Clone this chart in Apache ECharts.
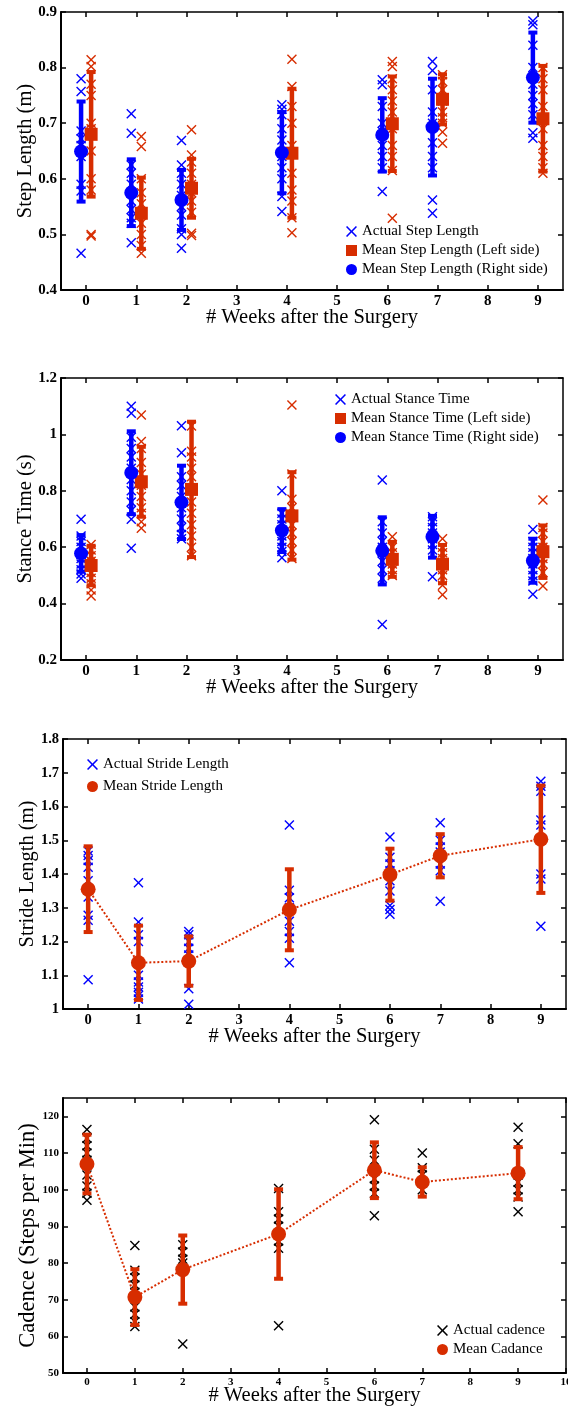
<!DOCTYPE html>
<html><head><meta charset="utf-8">
<script src="https://cdn.jsdelivr.net/npm/echarts@6/dist/echarts.min.js"></script>
<style>html,body{margin:0;padding:0;background:#fff}#c{width:568px;height:1408px}</style>
</head><body><div id="c"></div>
<script>
// ---------- DATA ----------
const weeks = [0, 1, 2, 4, 6, 7, 9];
const weekTicks = [0, 1, 2, 3, 4, 5, 6, 7, 8, 9];
const weekTicksCadence = [0, 1, 2, 3, 4, 5, 6, 7, 8, 9, 10];

// Panel 1: Step length (m)
const stepTicks = [0.4, 0.5, 0.6, 0.7, 0.8, 0.9];
const stepRightActual = [
  [0.780, 0.757, 0.686, 0.672, 0.660, 0.640, 0.590, 0.578, 0.466],
  [0.717, 0.682, 0.625, 0.610, 0.590, 0.560, 0.545, 0.530, 0.520, 0.485],
  [0.669, 0.625, 0.610, 0.590, 0.570, 0.550, 0.535, 0.510, 0.500, 0.475],
  [0.733, 0.725, 0.715, 0.690, 0.670, 0.640, 0.620, 0.600, 0.568, 0.541],
  [0.778, 0.769, 0.730, 0.700, 0.685, 0.660, 0.640, 0.620, 0.577],
  [0.811, 0.795, 0.760, 0.720, 0.700, 0.665, 0.640, 0.620, 0.562, 0.538],
  [0.884, 0.877, 0.840, 0.800, 0.770, 0.750, 0.735, 0.715, 0.683, 0.673]
];
const stepLeftActual = [
  [0.814, 0.802, 0.770, 0.750, 0.700, 0.690, 0.650, 0.600, 0.580, 0.500, 0.497],
  [0.676, 0.658, 0.600, 0.575, 0.555, 0.540, 0.520, 0.500, 0.480, 0.466],
  [0.688, 0.643, 0.630, 0.610, 0.590, 0.575, 0.560, 0.540, 0.502, 0.498],
  [0.815, 0.766, 0.730, 0.700, 0.660, 0.610, 0.580, 0.560, 0.530, 0.503],
  [0.811, 0.802, 0.780, 0.760, 0.740, 0.720, 0.690, 0.660, 0.640, 0.615, 0.529],
  [0.787, 0.775, 0.760, 0.740, 0.720, 0.710, 0.700, 0.684, 0.664],
  [0.800, 0.780, 0.760, 0.730, 0.710, 0.690, 0.660, 0.640, 0.620, 0.610]
];
const stepRightMean = [0.649, 0.575, 0.562, 0.647, 0.679, 0.693, 0.782];
const stepRightErr  = [0.090, 0.060, 0.054, 0.073, 0.066, 0.087, 0.081];
const stepLeftMean  = [0.680, 0.538, 0.583, 0.646, 0.699, 0.743, 0.708];
const stepLeftErr   = [0.112, 0.064, 0.053, 0.116, 0.085, 0.045, 0.095];

// Panel 2: Stance time (s)
const stanceTicks = [0.2, 0.4, 0.6, 0.8, 1.0, 1.2];
const stanceRightActual = [
  [0.699, 0.640, 0.620, 0.600, 0.575, 0.560, 0.540, 0.520, 0.505, 0.490],
  [1.100, 1.075, 0.990, 0.950, 0.920, 0.880, 0.840, 0.800, 0.760, 0.730, 0.699, 0.596],
  [1.031, 0.935, 0.850, 0.820, 0.780, 0.740, 0.700, 0.670, 0.645, 0.630],
  [0.800, 0.720, 0.700, 0.680, 0.660, 0.640, 0.620, 0.600, 0.585, 0.563],
  [0.838, 0.690, 0.650, 0.620, 0.600, 0.580, 0.550, 0.520, 0.490, 0.326],
  [0.708, 0.690, 0.670, 0.650, 0.630, 0.610, 0.590, 0.495],
  [0.663, 0.620, 0.600, 0.580, 0.560, 0.540, 0.520, 0.500, 0.480, 0.433]
];
const stanceLeftActual = [
  [0.610, 0.590, 0.570, 0.550, 0.530, 0.510, 0.490, 0.470, 0.448, 0.427],
  [1.069, 0.975, 0.950, 0.900, 0.860, 0.820, 0.780, 0.740, 0.720, 0.690, 0.667],
  [1.030, 0.940, 0.920, 0.880, 0.850, 0.800, 0.760, 0.720, 0.680, 0.640, 0.600, 0.570],
  [1.104, 0.860, 0.770, 0.740, 0.710, 0.680, 0.650, 0.620, 0.590, 0.560],
  [0.637, 0.600, 0.580, 0.560, 0.540, 0.520, 0.500],
  [0.630, 0.600, 0.580, 0.560, 0.540, 0.520, 0.500, 0.465, 0.431],
  [0.767, 0.670, 0.650, 0.620, 0.600, 0.580, 0.560, 0.540, 0.510, 0.462]
];
const stanceRightMean = [0.578, 0.864, 0.759, 0.659, 0.587, 0.637, 0.552];
const stanceRightErr  = [0.065, 0.147, 0.130, 0.076, 0.119, 0.074, 0.078];
const stanceLeftMean  = [0.535, 0.832, 0.805, 0.711, 0.557, 0.540, 0.584];
const stanceLeftErr   = [0.070, 0.124, 0.240, 0.155, 0.062, 0.068, 0.093];

// Panel 3: Stride length (m)
const strideTicks = [1.0, 1.1, 1.2, 1.3, 1.4, 1.5, 1.6, 1.7, 1.8];
const strideActual = [
  [1.468, 1.455, 1.440, 1.420, 1.380, 1.332, 1.278, 1.263, 1.087],
  [1.374, 1.258, 1.220, 1.200, 1.100, 1.080, 1.065, 1.050, 1.040, 1.030],
  [1.230, 1.220, 1.200, 1.180, 1.160, 1.140, 1.060, 1.014],
  [1.545, 1.352, 1.330, 1.300, 1.260, 1.230, 1.210, 1.137],
  [1.510, 1.450, 1.430, 1.410, 1.380, 1.350, 1.307, 1.295, 1.281],
  [1.552, 1.500, 1.480, 1.465, 1.430, 1.410, 1.319],
  [1.675, 1.660, 1.645, 1.560, 1.545, 1.400, 1.385, 1.245]
];
const strideMean = [1.355, 1.137, 1.142, 1.294, 1.398, 1.454, 1.503];
const strideErr  = [0.127, 0.110, 0.073, 0.120, 0.077, 0.064, 0.159];

// Panel 4: Cadence (steps per min)
const cadenceTicks = [50, 60, 70, 80, 90, 100, 110, 120];
const cadenceActual = [
  [116.4, 114, 112, 110, 108, 104, 101, 99, 97.1],
  [84.8, 78, 76, 74, 72, 68, 66, 64, 62.7],
  [85, 83, 81, 80, 57.9],
  [100.3, 94, 92, 90, 86, 84, 62.9],
  [119.1, 111, 108, 103, 101, 99, 92.9],
  [110, 106, 104, 102, 100],
  [117, 112.5, 104, 102, 100, 98, 94]
];
const cadenceMean = [107.0, 70.7, 78.2, 87.9, 105.3, 102.1, 104.5];
const cadenceErr  = [8.0, 7.6, 9.3, 12.2, 7.6, 4.0, 7.1];

// ---------- STYLE ----------
const BLUE = '#0000ff', RED = '#d72d00', BLACK = '#000000';
const SERIF = '"Liberation Serif", "Times New Roman", serif';
const X_PATH = 'path://M0,1L1,0L5,4L9,0L10,1L6,5L10,9L9,10L5,6L1,10L0,9L4,5Z';

function actualPoints(arr, off) {
  const out = [];
  weeks.forEach((w, i) => arr[i].forEach(v => out.push([w + off, v])));
  return out;
}
function meanPoints(mean, off) { return weeks.map((w, i) => [w + off, mean[i]]); }
function errPoints(mean, err, off) { return weeks.map((w, i) => [w + off, mean[i] - err[i], mean[i] + err[i]]); }

function errRender(params, api) {
  const x = api.value(0), lo = api.value(1), hi = api.value(2);
  const p1 = api.coord([x, lo]), p2 = api.coord([x, hi]);
  const color = api.visual('color');
  const cw = 9, ch = 4;
  return { type: 'group', children: [
    { type: 'line', shape: { x1: p1[0], y1: p1[1], x2: p2[0], y2: p2[1] }, style: { stroke: color, lineWidth: 4.5 } },
    { type: 'rect', shape: { x: p1[0] - cw / 2, y: p1[1] - ch / 2, width: cw, height: ch }, style: { fill: color } },
    { type: 'rect', shape: { x: p2[0] - cw / 2, y: p2[1] - ch / 2, width: cw, height: ch }, style: { fill: color } }
  ]};
}

const grids = [
  { left: 61, top: 12, width: 502, height: 278, outerBoundsMode: 'none', containLabel: false },
  { left: 61, top: 378, width: 502, height: 282, outerBoundsMode: 'none', containLabel: false },
  { left: 63, top: 739, width: 503, height: 270, outerBoundsMode: 'none', containLabel: false },
  { left: 63, top: 1098, width: 503, height: 275, outerBoundsMode: 'none', containLabel: false }
];

const xAxis = [], yAxis = [];
function addAxes(g, xmax, xt, yt, ymin, ymax, yname, fs, nameFs, yGap, xGap) {
  const common = { gridIndex: g, type: 'value', splitLine: { show: false } };
  const line = w => ({ show: true, onZero: false, lineStyle: { color: BLACK, width: w } });
  const label = vals => ({ show: true, customValues: vals, margin: 4, fontFamily: SERIF, fontWeight: 'bold', fontSize: fs, color: BLACK });
  const tick = vals => ({ show: true, inside: true, length: 5, customValues: vals, lineStyle: { color: BLACK, width: 1.5 } });
  xAxis.push(Object.assign({}, common, { position: 'bottom', min: -0.5, max: xmax, axisLine: line(2), axisTick: tick(xt), axisLabel: label(xt),
    name: '# Weeks after the Surgery', nameLocation: 'middle', nameGap: xGap, nameMoveOverlap: false,
    nameTextStyle: { fontFamily: SERIF, fontSize: 20.5, color: BLACK } }));
  xAxis.push(Object.assign({}, common, { position: 'top', min: -0.5, max: xmax, axisLine: line(1.5), axisTick: tick(xt), axisLabel: { show: false } }));
  yAxis.push(Object.assign({}, common, { position: 'left', min: ymin, max: ymax, axisLine: line(2), axisTick: tick(yt), axisLabel: label(yt),
    name: yname, nameLocation: 'middle', nameGap: yGap, nameMoveOverlap: false,
    nameTextStyle: { fontFamily: SERIF, fontSize: nameFs, color: BLACK } }));
  yAxis.push(Object.assign({}, common, { position: 'right', min: ymin, max: ymax, axisLine: line(1.5), axisTick: tick(yt), axisLabel: { show: false } }));
}
addAxes(0, 9.5, weekTicks, stepTicks, 0.4, 0.9, 'Step Length (m)', 15, 20.5, 25, 17);
addAxes(1, 9.5, weekTicks, stanceTicks, 0.2, 1.2, 'Stance Time (s)', 15, 20.5, 25, 17);
addAxes(2, 9.5, weekTicks, strideTicks, 1.0, 1.8, 'Stride Length (m)', 14.5, 20.5, 25, 17);
addAxes(3, 10, weekTicksCadence, cadenceTicks, 50, 125, 'Cadence (Steps per Min)', 11, 22.5, 23, 12);

const series = [];
function scatter(g, name, data, color, symbol, size, z) {
  series.push({ type: 'scatter', name, xAxisIndex: 2 * g, yAxisIndex: 2 * g, data, symbol, symbolSize: size,
    itemStyle: { color, opacity: 1 }, z, silent: true });
}
function errSeries(g, name, data, color, z) {
  series.push({ type: 'custom', name, xAxisIndex: 2 * g, yAxisIndex: 2 * g, data, renderItem: errRender,
    encode: { x: 0, y: [1, 2] }, itemStyle: { color }, z, silent: true });
}

// Panel 1
scatter(0, 'Actual Step Length', actualPoints(stepRightActual, -0.1), BLUE, X_PATH, 10, 2);
scatter(0, 'Actual Step Length (Left)', actualPoints(stepLeftActual, 0.1), RED, X_PATH, 10, 2);
errSeries(0, 'Step Err Right', errPoints(stepRightMean, stepRightErr, -0.1), BLUE, 3);
errSeries(0, 'Step Err Left', errPoints(stepLeftMean, stepLeftErr, 0.1), RED, 3);
scatter(0, 'Mean Step Length (Left side)', meanPoints(stepLeftMean, 0.1), RED, 'rect', 13, 4);
scatter(0, 'Mean Step Length (Right side)', meanPoints(stepRightMean, -0.1), BLUE, 'circle', 14, 4);

// Panel 2
scatter(1, 'Actual Stance Time', actualPoints(stanceRightActual, -0.1), BLUE, X_PATH, 10, 2);
scatter(1, 'Actual Stance Time (Left)', actualPoints(stanceLeftActual, 0.1), RED, X_PATH, 10, 2);
errSeries(1, 'Stance Err Right', errPoints(stanceRightMean, stanceRightErr, -0.1), BLUE, 3);
errSeries(1, 'Stance Err Left', errPoints(stanceLeftMean, stanceLeftErr, 0.1), RED, 3);
scatter(1, 'Mean Stance Time (Left side)', meanPoints(stanceLeftMean, 0.1), RED, 'rect', 13, 4);
scatter(1, 'Mean Stance Time (Right side)', meanPoints(stanceRightMean, -0.1), BLUE, 'circle', 14, 4);

// Panel 3
scatter(2, 'Actual Stride Length', actualPoints(strideActual, 0), BLUE, X_PATH, 10, 2);
errSeries(2, 'Stride Err', errPoints(strideMean, strideErr, 0), RED, 3);
series.push({ type: 'line', name: 'Mean Stride Length', xAxisIndex: 4, yAxisIndex: 4, data: meanPoints(strideMean, 0),
  symbol: 'circle', symbolSize: 15, showSymbol: true, itemStyle: { color: RED }, lineStyle: { color: RED, width: 2, type: 'dotted' }, z: 4, silent: true });

// Panel 4
scatter(3, 'Actual cadence', actualPoints(cadenceActual, 0), BLACK, X_PATH, 10, 2);
errSeries(3, 'Cadence Err', errPoints(cadenceMean, cadenceErr, 0), RED, 3);
series.push({ type: 'line', name: 'Mean Cadance', xAxisIndex: 6, yAxisIndex: 6, data: meanPoints(cadenceMean, 0),
  symbol: 'circle', symbolSize: 15, showSymbol: true, itemStyle: { color: RED }, lineStyle: { color: RED, width: 2, type: 'dotted' }, z: 4, silent: true });

function legendAt(left, top, items, gap) {
  return { orient: 'vertical', left, top, padding: 0, itemWidth: 11, itemHeight: 11, itemGap: gap, selectedMode: false,
    textStyle: { fontFamily: SERIF, fontSize: 15, color: BLACK, lineHeight: 15 },
    data: items.map(it => ({ name: it[0], icon: it[1] })) };
}
const legend = [
  legendAt(346, 224, [['Actual Step Length', X_PATH], ['Mean Step Length (Left side)', 'rect'], ['Mean Step Length (Right side)', 'circle']], 4),
  legendAt(335, 392, [['Actual Stance Time', X_PATH], ['Mean Stance Time (Left side)', 'rect'], ['Mean Stance Time (Right side)', 'circle']], 4),
  legendAt(87, 757, [['Actual Stride Length', X_PATH], ['Mean Stride Length', 'circle']], 7),
  legendAt(437, 1323, [['Actual cadence', X_PATH], ['Mean Cadance', 'circle']], 4)
];

const chart = echarts.init(document.getElementById('c'), null, { renderer: 'canvas' });
chart.setOption({ animation: false, backgroundColor: '#fff', grid: grids, xAxis, yAxis, legend, series });
</script></body></html>
